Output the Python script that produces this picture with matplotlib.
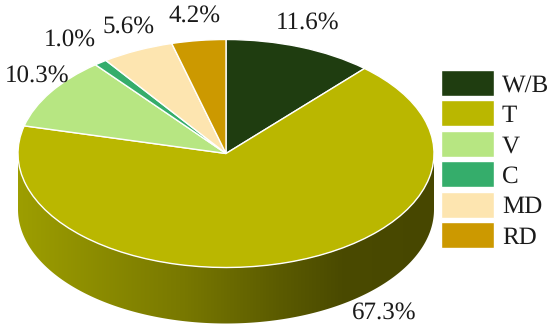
import numpy as np
import matplotlib
matplotlib.use('Agg')
import matplotlib.pyplot as plt
from matplotlib.colors import LinearSegmentedColormap
from matplotlib.patches import Polygon

plt.rcParams['font.family'] = ['Liberation Serif', 'DejaVu Serif']
plt.rcParams['text.hinting'] = 'no_hinting'
plt.rcParams['text.hinting_factor'] = 1

categories = ['W/B', 'T', 'V', 'C', 'MD', 'RD']
shares = [11.6, 67.3, 10.3, 1.0, 5.6, 4.2]
colors = ['#1f3d10', '#bab700', '#b7e682', '#35ad6b', '#fde5b0', '#cc9900']
value_labels = ['11.6%', '67.3%', '10.3%', '1.0%', '5.6%', '4.2%']
label_px = [(308, 23), (384, 313), (37, 76), (70, 40), (129, 27), (195, 16)]

W, H = 550, 331
CX, CY, RX, RY, DEPTH = 226, 153.5, 208, 114, 56


def to_x(px):
    return (px - CX) / RX


def to_y(py):
    return (CY - py) / RY


fig = plt.figure(figsize=(W / 100, H / 100), dpi=100)
ax = fig.add_axes([0, 0, 1, 1])

wedges, _ = ax.pie(shares, colors=colors, startangle=90, counterclock=False,
                   wedgeprops={'edgecolor': 'white', 'linewidth': 1.0, 'zorder': 3})
ax.set_aspect('auto')

# side wall of the disc, gradient clipped to the front half
t = np.linspace(0, np.pi, 200)
xs = np.cos(t)
top = -np.sin(t)
wall = np.column_stack([np.r_[xs, xs[::-1]], np.r_[top, top[::-1] - DEPTH / RY]])
cmap = LinearSegmentedColormap.from_list(
    'wall', [(0, '#9d9e00'), (0.4, '#787800'), (0.62, '#5c5c00'), (0.78, '#4a4a00'), (1, '#474700')])
img = ax.imshow(np.linspace(0, 1, 256).reshape(1, -1), cmap=cmap, aspect='auto',
                extent=(-1, 1, to_y(H), to_y(0)), zorder=1)
clip = Polygon(wall, closed=True, transform=ax.transData, facecolor='none', edgecolor='none')
ax.add_patch(clip)
img.set_clip_path(clip)

ax.set_xlim(to_x(0), to_x(W))
ax.set_ylim(to_y(H), to_y(0))
ax.axis('off')

for text, (px, py) in zip(value_labels, label_px):
    ax.text(to_x(px), to_y(py), text, fontsize=18, color='#1a1a1a', ha='center', va='center')

ax.legend(wedges, categories, loc='upper left', bbox_to_anchor=(441 / W, 1 - 70 / H),
          frameon=False, fontsize=18, handlelength=2.14, handleheight=1.22,
          labelspacing=0.15, handletextpad=0.3, borderpad=0, borderaxespad=0,
          labelcolor='#1a1a1a')

fig.savefig('out.png', dpi=100)
